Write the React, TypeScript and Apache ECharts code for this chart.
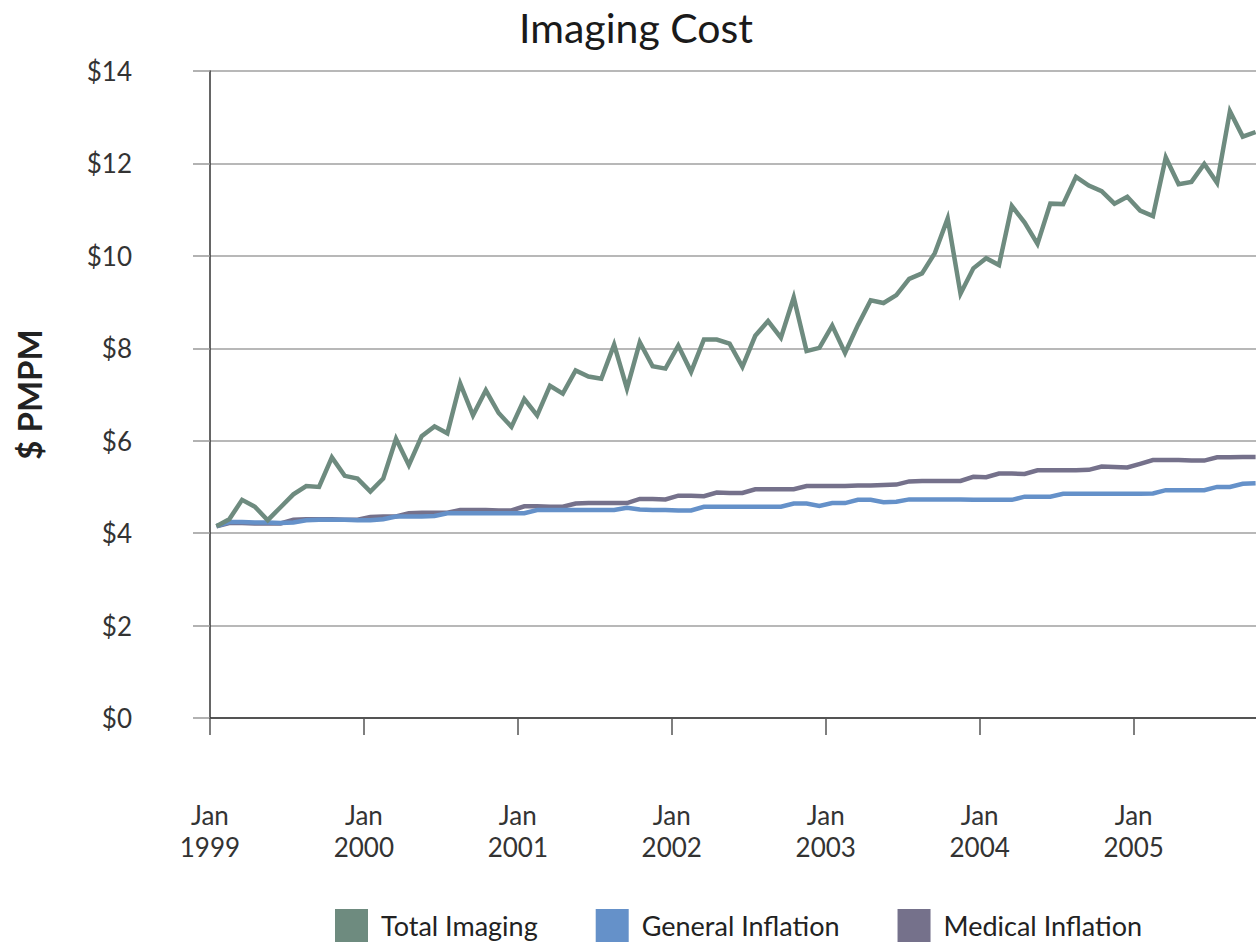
import React, { useEffect, useRef } from "react";
import * as echarts from "echarts";

const monthNames = ["Jan", "Feb", "Mar", "Apr", "May", "Jun", "Jul", "Aug", "Sep", "Oct", "Nov", "Dec"];
const startYear = 1999;
const monthCount = 82; // Jan 1999 .. Oct 2005
const categories: string[] = [];
for (let i = 0; i < monthCount; i++) {
  categories.push(`${monthNames[i % 12]} ${startYear + Math.floor(i / 12)}`);
}

const totalImaging = [
  4.15, 4.3, 4.72, 4.57, 4.28, 4.56, 4.84, 5.02, 5.0, 5.64, 5.24, 5.18,
  4.9, 5.18, 6.04, 5.47, 6.1, 6.31, 6.16, 7.24, 6.55, 7.09, 6.6, 6.3,
  6.9, 6.55, 7.19, 7.02, 7.52, 7.39, 7.34, 8.08, 7.13, 8.13, 7.61, 7.56,
  8.06, 7.49, 8.19, 8.19, 8.1, 7.6, 8.27, 8.59, 8.23, 9.1, 7.94, 8.01,
  8.49, 7.9, 8.5, 9.04, 8.98, 9.15, 9.5, 9.62, 10.06, 10.81, 9.18, 9.73,
  9.95, 9.8, 11.08, 10.72, 10.26, 11.13, 11.12, 11.71, 11.52, 11.4, 11.13, 11.28,
  10.98, 10.86, 12.13, 11.55, 11.6, 11.99, 11.58, 13.13, 12.58, 12.68,
];

const generalInflation = [
  4.15, 4.24, 4.24, 4.23, 4.23, 4.22, 4.23, 4.28, 4.29, 4.29, 4.29, 4.28,
  4.28, 4.3, 4.36, 4.36, 4.36, 4.37, 4.43, 4.43, 4.43, 4.43, 4.43, 4.43,
  4.43, 4.5, 4.5, 4.5, 4.5, 4.5, 4.5, 4.5, 4.55, 4.51, 4.5, 4.5,
  4.49, 4.49, 4.57, 4.57, 4.57, 4.57, 4.57, 4.57, 4.57, 4.64, 4.64, 4.59,
  4.65, 4.65, 4.72, 4.72, 4.67, 4.68, 4.73, 4.73, 4.73, 4.73, 4.73, 4.72,
  4.72, 4.72, 4.72, 4.79, 4.79, 4.79, 4.85, 4.85, 4.85, 4.85, 4.85, 4.85,
  4.85, 4.86, 4.93, 4.93, 4.93, 4.93, 5.0, 5.0, 5.07, 5.08,
];

const medicalInflation = [
  4.15, 4.22, 4.22, 4.21, 4.21, 4.21, 4.29, 4.3, 4.3, 4.3, 4.29, 4.29,
  4.35, 4.36, 4.36, 4.43, 4.44, 4.44, 4.44, 4.5, 4.5, 4.5, 4.49, 4.49,
  4.58, 4.58, 4.57, 4.57, 4.64, 4.65, 4.65, 4.65, 4.65, 4.74, 4.74, 4.73,
  4.81, 4.81, 4.8, 4.88, 4.87, 4.87, 4.95, 4.95, 4.95, 4.95, 5.02, 5.02,
  5.02, 5.02, 5.03, 5.03, 5.04, 5.05, 5.12, 5.13, 5.13, 5.13, 5.13, 5.22,
  5.21, 5.29, 5.29, 5.28, 5.36, 5.36, 5.36, 5.36, 5.37, 5.44, 5.43, 5.42,
  5.5, 5.58, 5.58, 5.58, 5.57, 5.57, 5.64, 5.64, 5.65, 5.65,
];

const seriesNames = ["Total Imaging", "General Inflation", "Medical Inflation"];
const seriesColors = ["#6e8b7f", "#6591c9", "#75718b"];

const FONT = "Lato, 'Open Sans', sans-serif";

export default function App() {
  const ref = useRef<HTMLDivElement>(null);

  useEffect(() => {
    const chart = echarts.init(ref.current!, null, { renderer: "svg" });
    const mkSeries = (idx: number, data: number[], z: number) => ({
      name: seriesNames[idx],
      type: "line",
      data,
      symbol: "none",
      z,
      itemStyle: { color: seriesColors[idx] },
      lineStyle: { color: seriesColors[idx], width: 4.5, join: "miter" },
    });
    chart.setOption({
      animation: false,
      backgroundColor: "#ffffff",
      title: {
        text: "Imaging Cost",
        left: 631,
        textAlign: "center",
        top: 2,
        textStyle: { fontFamily: FONT, fontSize: 41, fontWeight: "normal", color: "#1a1a1a" },
      },
      legend: {
        left: 330,
        top: 904,
        itemWidth: 33,
        itemHeight: 33,
        itemGap: 58,
        textStyle: { fontFamily: FONT, fontSize: 27, color: "#222", padding: [0, 0, 0, 8] },
        data: seriesNames.map((n) => ({ name: n, icon: "rect" })),
      },
      grid: {
        left: 210,
        right: -6,
        top: 71,
        bottom: 224,
        containLabel: false,
        outerBoundsMode: "none",
      },
      xAxis: {
        type: "category",
        data: categories,
        boundaryGap: true,
        axisLine: { show: true, lineStyle: { color: "#333", width: 1.5 } },
        axisTick: { show: true, interval: 11, length: 17, lineStyle: { color: "#555", width: 1.5 } },
        axisLabel: {
          interval: 11,
          margin: 81,
          fontFamily: FONT,
          fontSize: 26,
          lineHeight: 32,
          color: "#333",
          padding: [0, 13, 0, 0],
          formatter: (v: string) => v.replace(" ", "\n"),
        },
        splitLine: { show: false },
      },
      yAxis: {
        type: "value",
        min: 0,
        max: 14,
        interval: 2,
        name: "$ PMPM",
        nameLocation: "middle",
        nameRotate: 90,
        nameGap: 165,
        nameTextStyle: { fontFamily: FONT, fontSize: 33, fontWeight: "bold", color: "#222" },
        axisLine: { show: true, lineStyle: { color: "#333", width: 1.5 } },
        axisTick: { show: true, length: 17, lineStyle: { color: "#999", width: 1.5 } },
        axisLabel: {
          margin: 78,
          fontFamily: FONT,
          fontSize: 26,
          color: "#333",
          formatter: (v: number) => "$" + v,
        },
        splitLine: { show: true, lineStyle: { color: "#a0a0a0", width: 1.5 } },
      },
      series: [
        mkSeries(2, medicalInflation, 2),
        mkSeries(1, generalInflation, 3),
        mkSeries(0, totalImaging, 4),
      ],
    });
    return () => chart.dispose();
  }, []);

  return (
    <div
      ref={ref}
      style={{ position: "fixed", left: 0, top: 0, width: 1256, height: 942, background: "#fff" }}
    />
  );
}
